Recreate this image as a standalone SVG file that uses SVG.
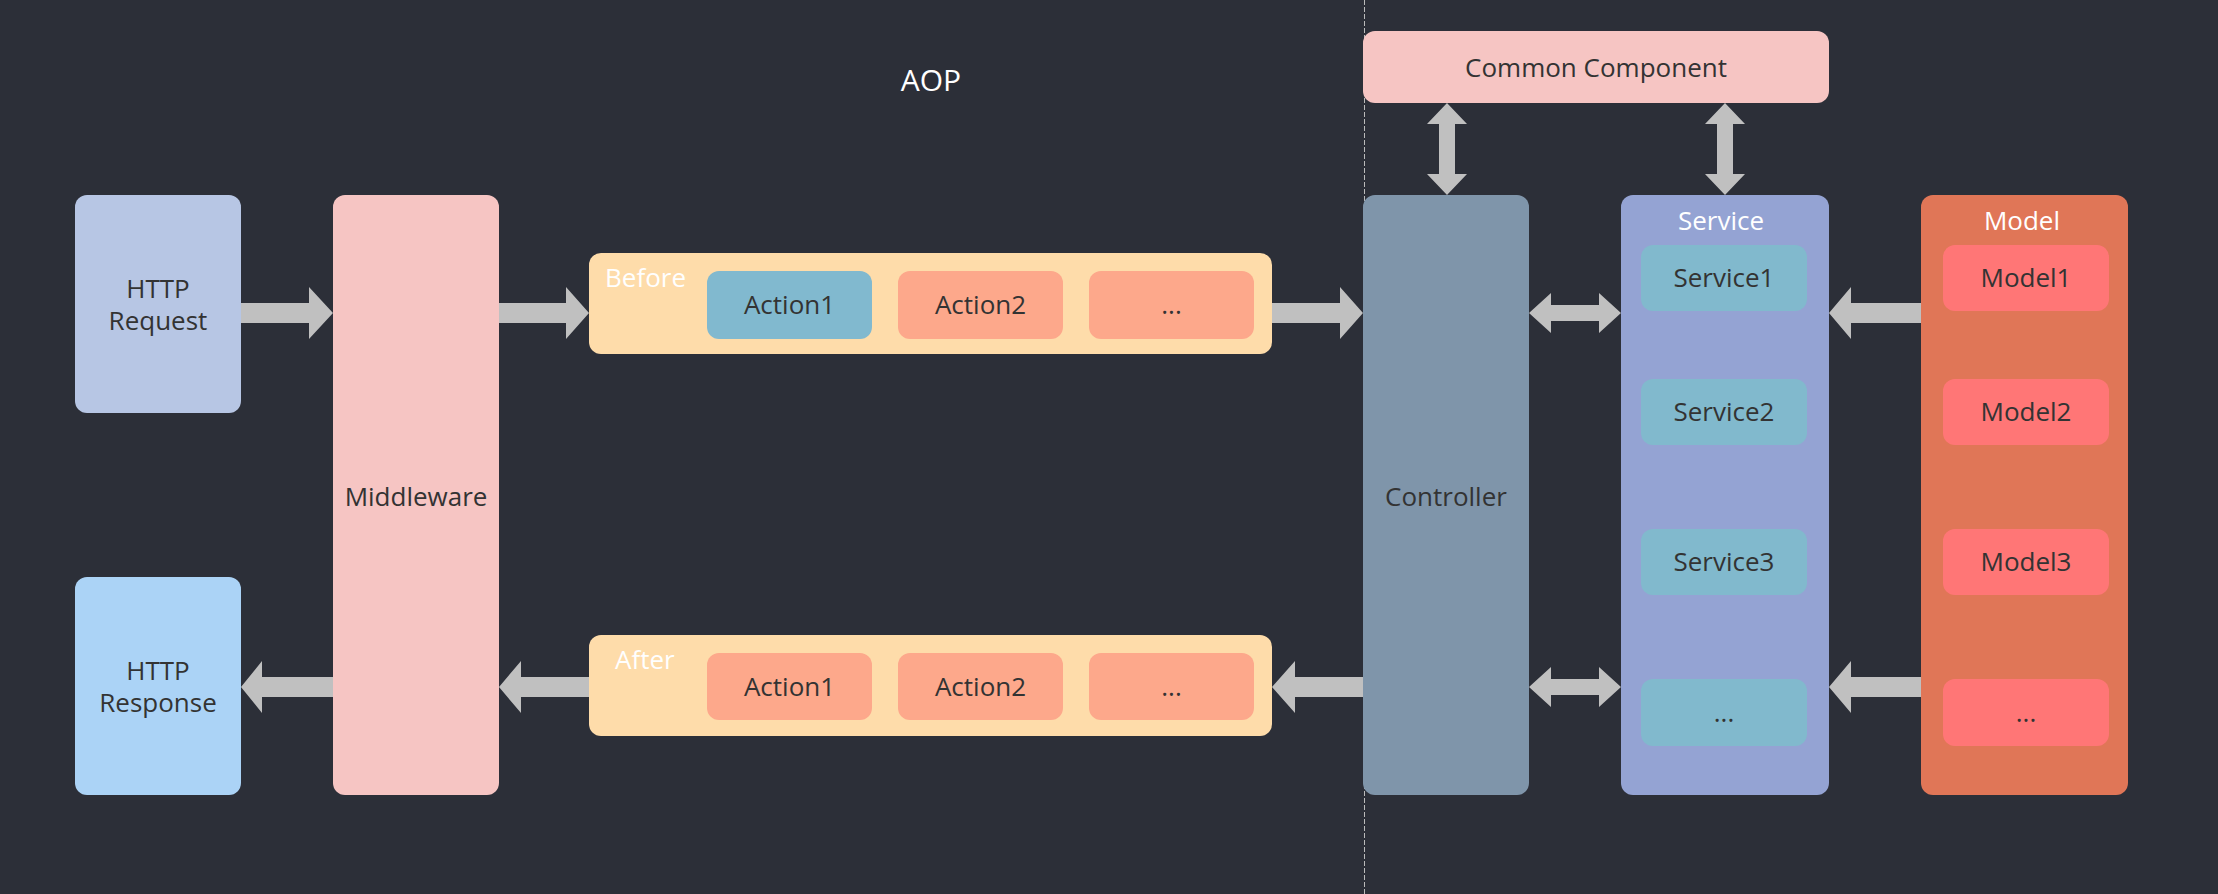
<svg xmlns="http://www.w3.org/2000/svg" width="2218" height="894" viewBox="0 0 2218 894">
<style>
text{font-family:"Open Sans","Noto Sans","Liberation Sans",sans-serif;font-size:26px;fill:#333333;text-anchor:middle}
.w{fill:#ffffff}
.ttl{font-size:30px;fill:#ffffff}
.lbl{fill:#ffffff;text-anchor:start}
.arr{fill:#c0c0c0}
</style>
<rect width="2218" height="894" fill="#2c2f38"/>
<line x1="1364.5" y1="0" x2="1364.5" y2="894" stroke="#bbbbbb" stroke-width="1" stroke-dasharray="5 2"/>
<text class="ttl" x="931" y="91">AOP</text>
<g id="http-request"><rect x="75" y="195" width="166" height="218" rx="12" fill="#b7c6e4"/><text x="158" y="298">HTTP</text><text x="158" y="330">Request</text></g>
<g id="http-response"><rect x="75" y="577" width="166" height="218" rx="12" fill="#abd3f6"/><text x="158" y="680">HTTP</text><text x="158" y="712">Response</text></g>
<g id="middleware"><rect x="333" y="195" width="166" height="600" rx="12" fill="#f6c5c3"/><text x="416" y="506">Middleware</text></g>
<g id="before"><rect x="589" y="253" width="683" height="101" rx="12" fill="#fedcaa"/><text class="lbl" x="605" y="287">Before</text>
<g id="before-action1"><rect x="707" y="271" width="165" height="68" rx="12" fill="#81b9cf"/><text x="789.5" y="314">Action1</text></g>
<g id="before-action2"><rect x="898" y="271" width="165" height="68" rx="12" fill="#fda88b"/><text x="980.5" y="314">Action2</text></g>
<g id="before-more"><rect x="1089" y="271" width="165" height="68" rx="12" fill="#fda88b"/><text x="1171.5" y="314">...</text></g>
</g>
<g id="after"><rect x="589" y="635" width="683" height="101" rx="12" fill="#fedcaa"/><text class="lbl" x="615" y="669">After</text>
<g id="after-action1"><rect x="707" y="653" width="165" height="67" rx="12" fill="#fda88b"/><text x="789.5" y="696">Action1</text></g>
<g id="after-action2"><rect x="898" y="653" width="165" height="67" rx="12" fill="#fda88b"/><text x="980.5" y="696">Action2</text></g>
<g id="after-more"><rect x="1089" y="653" width="165" height="67" rx="12" fill="#fda88b"/><text x="1171.5" y="696">...</text></g>
</g>
<g id="common-component"><rect x="1363" y="31" width="466" height="72" rx="12" fill="#f6c5c3"/><text x="1596" y="77">Common Component</text></g>
<g id="controller"><rect x="1363" y="195" width="166" height="600" rx="12" fill="#7f95aa"/><text x="1446" y="506">Controller</text></g>
<g id="service"><rect x="1621" y="195" width="208" height="600" rx="12" fill="#94a3d3"/><text class="w" x="1721" y="230">Service</text>
<g id="service1"><rect x="1641" y="245" width="166" height="66" rx="12" fill="#81b9cd"/><text x="1724" y="287">Service1</text></g>
<g id="service2"><rect x="1641" y="379" width="166" height="66" rx="12" fill="#81b9cd"/><text x="1724" y="421">Service2</text></g>
<g id="service3"><rect x="1641" y="529" width="166" height="66" rx="12" fill="#81b9cd"/><text x="1724" y="571">Service3</text></g>
<g id="service-more"><rect x="1641" y="679" width="166" height="67" rx="12" fill="#81b9cd"/><text x="1724" y="722">...</text></g>
</g>
<g id="model"><rect x="1921" y="195" width="207" height="600" rx="12" fill="#e07657"/><text class="w" x="2022" y="230">Model</text>
<g id="model1"><rect x="1943" y="245" width="166" height="66" rx="12" fill="#ff7676"/><text x="2026" y="287">Model1</text></g>
<g id="model2"><rect x="1943" y="379" width="166" height="66" rx="12" fill="#ff7676"/><text x="2026" y="421">Model2</text></g>
<g id="model3"><rect x="1943" y="529" width="166" height="66" rx="12" fill="#ff7676"/><text x="2026" y="571">Model3</text></g>
<g id="model-more"><rect x="1943" y="679" width="166" height="67" rx="12" fill="#ff7676"/><text x="2026" y="722">...</text></g>
</g>
<g id="connectors" class="arr">
<polygon points="241,303 309,303 309,287 333,313 309,339 309,323 241,323"/>
<polygon points="499,303 566,303 566,287 589,313 566,339 566,323 499,323"/>
<polygon points="1272,303 1340,303 1340,287 1363,313 1340,339 1340,323 1272,323"/>
<polygon points="333,677 262,677 262,661 241,687 262,713 262,697 333,697"/>
<polygon points="589,677 521,677 521,661 499,687 521,713 521,697 589,697"/>
<polygon points="1363,677 1295,677 1295,661 1272,687 1295,713 1295,697 1363,697"/>
<polygon points="1921,303 1851,303 1851,287 1829,313 1851,339 1851,323 1921,323"/>
<polygon points="1921,677 1851,677 1851,661 1829,687 1851,713 1851,697 1921,697"/>
<polygon points="1529,313 1551,293 1551,305 1599,305 1599,293 1621,313 1599,333 1599,321 1551,321 1551,333"/>
<polygon points="1529,687 1551,667 1551,679 1599,679 1599,667 1621,687 1599,707 1599,695 1551,695 1551,707"/>
<polygon points="1447,103 1467,124 1455,124 1455,174 1467,174 1447,195 1427,174 1439,174 1439,124 1427,124"/>
<polygon points="1725,103 1745,124 1733,124 1733,174 1745,174 1725,195 1705,174 1717,174 1717,124 1705,124"/>
</g>
</svg>
